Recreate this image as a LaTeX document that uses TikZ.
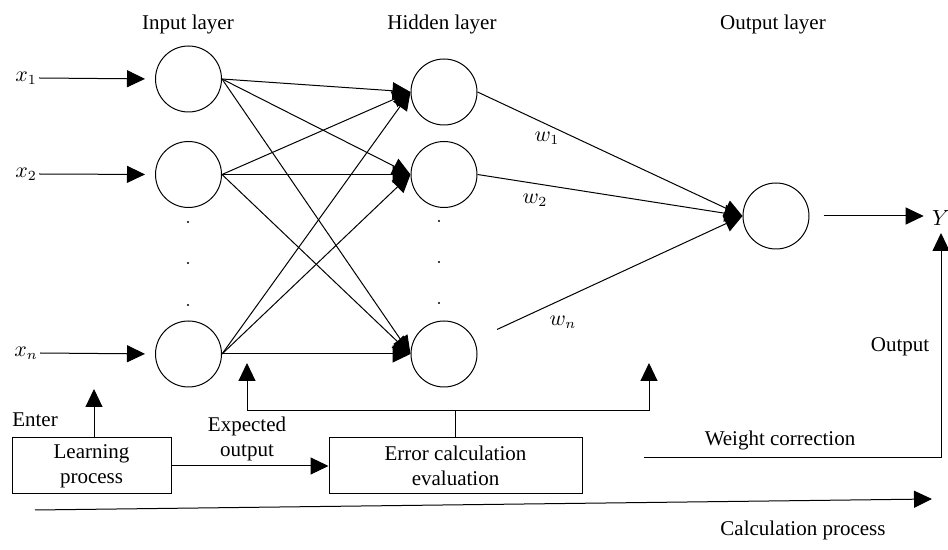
\documentclass[tikz,border=0pt]{standalone}
\usepackage{fontspec}
\setmainfont{Liberation Serif}
\usetikzlibrary{arrows.meta,positioning}
\tikzset
{
  neuron/.style  = {circle, draw=black, minimum size=33pt, inner sep=0pt},
  procbox/.style = {rectangle, draw=black, align=center, minimum height=28pt, inner sep=1pt},
  caption/.style = {inner sep=1pt, align=center},
  dotmark/.style = {fill=black}
}

\begin{document}
\begin{tikzpicture}[x=0.5pt,y=-0.5pt,>={Triangle[length=9pt,width=8.5pt]},line width=0.5pt,font=\fontsize{10.5}{12.5}\selectfont]
  \useasboundingbox (0,0) rectangle (948,550);

  % titles
  \node [caption] (tin)  at (188,24) {Input layer};
  \node [caption] (thid) at (442,24) {Hidden layer};
  \node [caption] (tout) at (773,24) {Output layer};

  % neurons
  \node [neuron] (in1) at (188.5,79) {};
  \node [neuron] (in2) at (188.5,174.5) {};
  \node [neuron] (inn) at (188.5,354) {};
  \node [neuron] (hid1) at (444,92) {};
  \node [neuron] (hid2) at (444,174.5) {};
  \node [neuron] (hidn) at (444,354) {};
  \node [neuron] (out) at (776,216) {};

  % dots
  \fill[dotmark] (188,222) circle (0.6pt) (188,263) circle (0.6pt) (188,305) circle (0.6pt);
  \fill[dotmark] (439,221) circle (0.6pt) (439,262) circle (0.6pt) (439,303) circle (0.6pt);

  % inputs
  \node [caption] (x1) at (26,78) {$x_1$};
  \node [caption] (x2) at (26,174) {$x_2$};
  \node [caption] (xn) at (26,353) {$x_n$};
  \draw[->,shorten >=5pt] (x1.east) -- (in1.west);
  \draw[->,shorten >=5pt] (x2.east) -- (in2.west);
  \draw[->,shorten >=5pt] (xn.east) -- (inn.west);

  % input to hidden
  \draw[->] (in1.east) -- (hid1.west);
  \draw[->] (in1.east) -- (hid2.west);
  \draw[->] (in1.east) -- (hidn.west);
  \draw[->] (in2.east) -- (hid1.west);
  \draw[->] (in2.east) -- (hid2.west);
  \draw[->] (in2.east) -- (hidn.west);
  \draw[->] (inn.east) -- (hid1.west);
  \draw[->] (inn.east) -- (hid2.west);
  \draw[->] (inn.east) -- (hidn.west);

  % hidden to output
  \draw[->] (hid1.east) -- (out.west);
  \draw[->] (hid2.east) -- (out.west);
  \draw[->,shorten <=12.5pt] (hidn) -- (out.west);
  \node [caption] (w1) at (547,138) {$w_1$};
  \node [caption] (w2) at (535,200) {$w_2$};
  \node [caption] (wn) at (563,322) {$w_n$};

  % output
  \node [caption] (Y) at (941,218) {$Y$};
  \draw[->,shorten <=7pt,shorten >=3pt] (out.east) -- (Y.west |- out.east);
  \node [caption] (outlbl) at (900,347) {Output};

  % weight correction
  \coordinate (wc) at (644,458);
  \coordinate (ytip) at (941,233);
  \draw[->] (wc) -| (ytip);
  \node [caption] (wclbl) at (780,440) {Weight correction};

  % learning and error boxes
  \node [procbox, minimum width=79.5pt] (learn) at (91.5,466) {Learning\\process};
  \node [procbox, minimum width=126.5pt] (err) at (455.5,466) {Error calculation\\evaluation};
  \node [caption] (enter) at (35,420) {Enter};
  \coordinate (entip) at (94,389);
  \draw[->] (learn.north -| entip) -- (entip);
  \node [caption] (expct) at (247,439) {Expected\\output};
  \draw[->] (learn.east) -- (err.west);

  % feedback
  \coordinate (fbL) at (247,363);
  \coordinate (fbR) at (649,363);
  \draw[->] (err.north) -- (err.north |- 0,411) -| (fbL);
  \draw[->] (err.north |- 0,411) -| (fbR);

  % calculation process
  \coordinate (cpa) at (35,510);
  \coordinate (cpb) at (932,499);
  \draw[->] (cpa) -- (cpb);
  \node [caption] (cplbl) at (803,530) {Calculation process};
\end{tikzpicture}
\end{document}
